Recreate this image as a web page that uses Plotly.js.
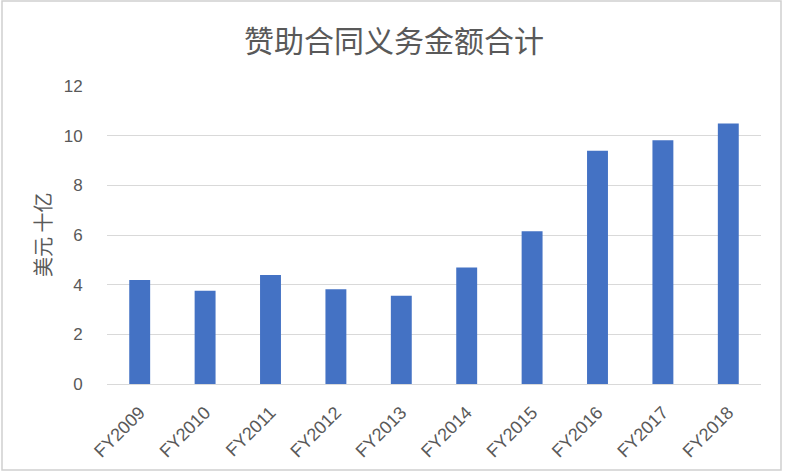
<!DOCTYPE html>
<html>
<head>
<meta charset="utf-8">
<script src="https://cdn.plot.ly/plotly-3.0.1.min.js"></script>
<style>
html,body{margin:0;padding:0;background:#fff;}
#chart{width:787px;height:473px;}
</style>
</head>
<body>
<div id="chart"></div>
<script>
const categories = ["FY2009","FY2010","FY2011","FY2012","FY2013","FY2014","FY2015","FY2016","FY2017","FY2018"];
const values = [4.19, 3.76, 4.39, 3.82, 3.55, 4.69, 6.15, 9.39, 9.82, 10.49];
const yTicks = [0, 2, 4, 6, 8, 10, 12];
const chartTitle = "赞助合同义务金额合计";
const yTitle = "美元 十亿";

const W = 787, H = 473;
const m = {l: 107, r: 26, t: 86, b: 89};
const pw = W - m.l - m.r, ph = H - m.t - m.b;
const px = v => (v - m.l) / pw;
const py = v => (H - m.b - v) / ph;

const font = "Liberation Sans, 'Noto Sans CJK SC', sans-serif";
const cjk = "'Noto Sans CJK SC', sans-serif";
const gray = "#595959";

const trace = {
  type: "bar",
  x: categories,
  y: values,
  marker: {color: "#4472C4", line: {width: 0}},
  hoverinfo: "x+y"
};

const layout = {
  width: W, height: H,
  margin: m,
  paper_bgcolor: "#ffffff",
  plot_bgcolor: "#ffffff",
  bargap: 0.68,
  showlegend: false,
  font: {family: font, color: gray},
  annotations: [{
    text: chartTitle,
    xref: "paper", yref: "paper",
    x: px(394), y: py(39),
    xanchor: "center", yanchor: "middle",
    showarrow: false,
    font: {family: cjk, size: 30, color: gray}
  }, {
    text: yTitle,
    xref: "paper", yref: "paper",
    x: px(42), y: 0.5,
    xanchor: "center", yanchor: "middle",
    textangle: -90,
    showarrow: false,
    font: {family: cjk, size: 20, color: gray}
  }],
  xaxis: {
    type: "category",
    tickangle: -45,
    tickfont: {family: font, size: 18, color: gray},
    showgrid: false,
    showline: false,
    zeroline: false,
    ticks: "outside", ticklen: 10, tickcolor: "rgba(0,0,0,0)"
  },
  yaxis: {
    range: [0, 12],
    tickvals: yTicks,
    ticktext: yTicks.map(String),
    tickfont: {family: font, size: 17, color: gray},
    showgrid: true,
    gridcolor: "#d9d9d9",
    gridwidth: 1,
    zeroline: true,
    zerolinecolor: "#d9d9d9",
    zerolinewidth: 1,
    showline: false,
    ticks: "outside", ticklen: 20, tickcolor: "rgba(0,0,0,0)"
  },
  shapes: [{
    type: "rect", xref: "paper", yref: "paper",
    x0: px(2), x1: px(781), y0: py(470), y1: py(1),
    line: {color: "#d0d0d0", width: 1.5},
    fillcolor: "rgba(0,0,0,0)",
    layer: "below"
  }]
};

Plotly.newPlot("chart", [trace], layout, {displayModeBar: false, staticPlot: true});
</script>
</body>
</html>
